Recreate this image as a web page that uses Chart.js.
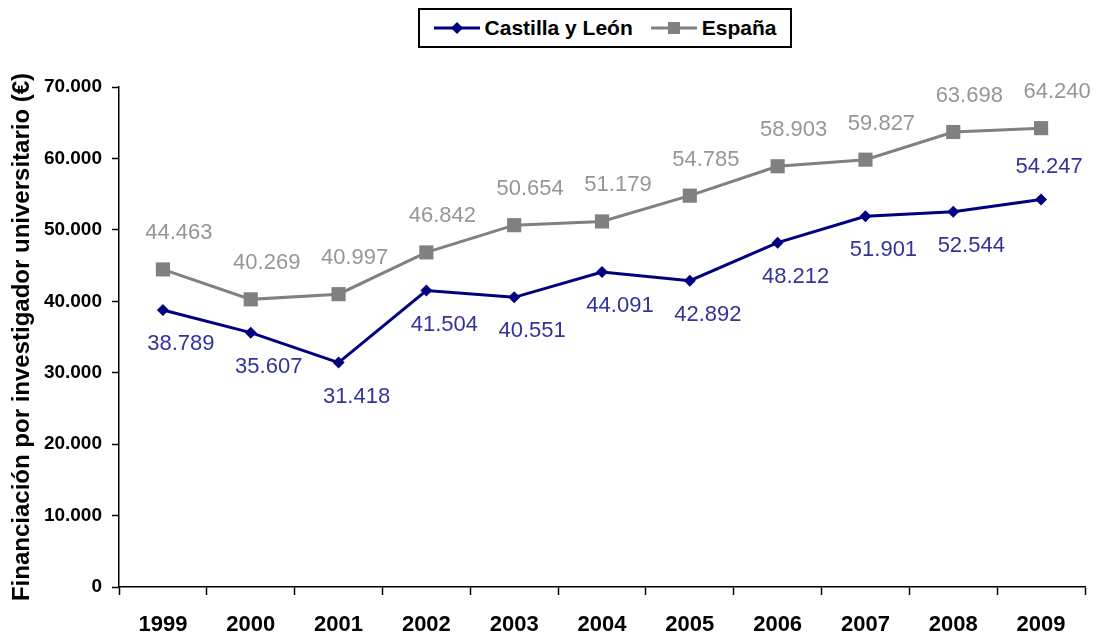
<!DOCTYPE html>
<html>
<head>
<meta charset="utf-8">
<script src="https://cdn.jsdelivr.net/npm/chart.js@4"></script>
<style>
  html, body { margin: 0; padding: 0; background: #fff; }
  #wrap { position: relative; width: 1099px; height: 637px; }
  #legend {
    position: absolute; left: 418px; top: 8px; width: 370px; height: 36px;
    border: 2px solid #000; background: #fff;
    display: flex; align-items: center; justify-content: center; gap: 18px;
    font: bold 21px "Liberation Sans", Arial, sans-serif; color: #000;
  }
  #legend span { display: flex; align-items: center; gap: 5px; }
</style>
</head>
<body>
<div id="wrap">
  <canvas id="chart" width="1099" height="637"></canvas>
  <div id="legend"></div>
</div>
<script>
// --- datos ---
const years = ['1999', '2000', '2001', '2002', '2003', '2004', '2005', '2006', '2007', '2008', '2009'];
const castilla = [38789, 35607, 31418, 41504, 40551, 44091, 42892, 48212, 51901, 52544, 54247];
const espana = [44463, 40269, 40997, 46842, 50654, 51179, 54785, 58903, 59827, 63698, 64240];
const yTicks = [0, 10000, 20000, 30000, 40000, 50000, 60000, 70000];

const FONT = '"Liberation Sans", Arial, sans-serif';
const fmt = v => String(v).replace(/\B(?=(\d{3})+(?!\d))/g, '.');

// etiquetas de datos: debajo para Castilla (salvo la última), encima para España
const labelStyle = [
  { color: '#333399', dx: 18, dy: 34, above: [10], aboveDx: 8, aboveDy: -33 },
  { color: '#969696', dx: 16, dy: -36, above: [] },
];

const dataLabels = {
  id: 'dataLabels',
  afterDatasetsDraw(chart) {
    const ctx = chart.ctx;
    ctx.save();
    ctx.font = '22px ' + FONT;
    ctx.textAlign = 'center';
    ctx.textBaseline = 'middle';
    chart.data.datasets.forEach((ds, di) => {
      const st = labelStyle[di];
      ctx.fillStyle = st.color;
      chart.getDatasetMeta(di).data.forEach((pt, i) => {
        const up = st.above.includes(i);
        const dx = up ? st.aboveDx : st.dx;
        const dy = up ? st.aboveDy : st.dy;
        ctx.fillText(fmt(ds.data[i]), pt.x + dx, pt.y + dy);
      });
    });
    ctx.restore();
  },
};

const series = [
  { label: 'Castilla y León', data: castilla, color: '#000080', marker: 'rectRot', radius: 6 },
  { label: 'España', data: espana, color: '#808080', marker: 'rect', radius: 10 },
];

new Chart(document.getElementById('chart'), {
  type: 'line',
  data: {
    labels: years,
    datasets: series.map(s => ({
      label: s.label,
      data: s.data,
      borderColor: s.color,
      backgroundColor: s.color,
      borderWidth: 3,
      pointStyle: s.marker,
      pointRadius: s.radius,
      pointBorderWidth: 0,
      tension: 0,
    })),
  },
  options: {
    responsive: false,
    animation: false,
    layout: { padding: { top: 87, right: 14, bottom: 0, left: 8 } },
    plugins: { legend: { display: false }, tooltip: { enabled: false } },
    scales: {
      x: {
        offset: true,
        grid: { offset: true, drawOnChartArea: false, color: '#000', tickLength: 8, tickWidth: 1.5 },
        border: { color: '#000', width: 1.5 },
        ticks: { color: '#000', padding: 17, font: { family: FONT, size: 22, weight: 'bold' }, maxRotation: 0 },
        afterFit: s => { s.height = 50; },
      },
      y: {
        min: 0,
        max: 70000,
        afterBuildTicks: s => { s.ticks = yTicks.map(v => ({ value: v })); },
        grid: { drawOnChartArea: false, color: '#000', tickLength: 7, tickWidth: 1.5 },
        border: { color: '#000', width: 1.5 },
        ticks: { color: '#000', padding: 10, callback: v => fmt(v), font: { family: FONT, size: 19, weight: 'bold' } },
        title: {
          display: true,
          text: 'Financiación por investigador universitario (€)',
          color: '#000',
          font: { family: FONT, size: 24, weight: 'bold' },
          padding: { top: 0, bottom: 0 },
        },
        afterFit: s => { s.width = 111; },
      },
    },
  },
  plugins: [dataLabels],
});

// leyenda
const legend = document.getElementById('legend');
series.forEach(s => {
  const item = document.createElement('span');
  const mark = s.marker === 'rect'
    ? '<rect x="17" y="1" width="12" height="12" fill="' + s.color + '"/>'
    : '<polygon points="23,1 29,7 23,13 17,7" fill="' + s.color + '"/>';
  item.innerHTML = '<svg width="46" height="14"><line x1="0" y1="7" x2="46" y2="7" stroke="' + s.color
    + '" stroke-width="3"/>' + mark + '</svg>' + s.label;
  legend.appendChild(item);
});
</script>
</body>
</html>
